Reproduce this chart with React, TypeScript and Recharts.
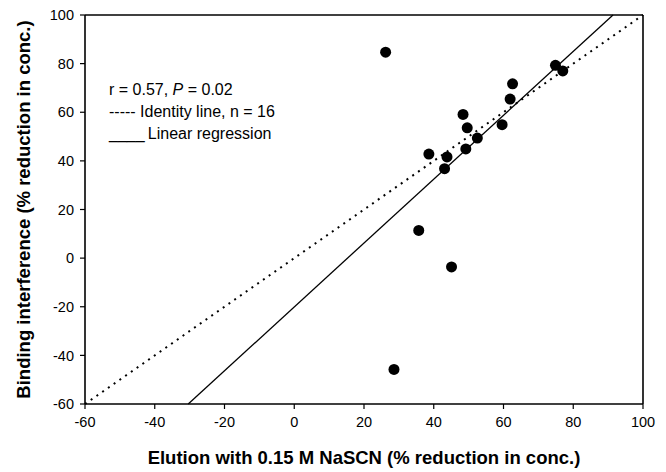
import React from 'react';
import {
  ScatterChart,
  Scatter,
  XAxis,
  YAxis,
  ReferenceLine,
  Label,
  Customized,
} from 'recharts';

// Elution with 0.15 M NaSCN vs. binding interference (% reduction in conc.)
const elution = [26.2, 38.6, 43.8, 43.1, 35.7, 45.1, 28.6, 48.4, 49.6, 49.2, 52.5, 59.6, 61.9, 62.6, 74.9, 77.0];
const binding = [84.7, 42.8, 41.6, 36.8, 11.4, -3.6, -45.8, 59.1, 53.6, 44.9, 49.4, 54.9, 65.4, 71.7, 79.3, 77.0];

const xTicks = [-60, -40, -20, 0, 20, 40, 60, 80, 100];
const yTicks = [-60, -40, -20, 0, 20, 40, 60, 80, 100];

// Endpoints of the identity line and of the fitted regression line
const identityLine = [
  { x: -60, y: -60 },
  { x: 100, y: 100 },
];
const regressionLine = [
  { x: -30.4, y: -60 },
  { x: 91.4, y: 100 },
];

const points = elution.map((x, i) => ({ x, y: binding[i] }));

const FONT = '"Liberation Sans", Arial, Helvetica, sans-serif';

const Dot = (props: any) => {
  const { cx, cy } = props;
  if (cx == null || cy == null) return null;
  return <circle cx={cx} cy={cy} r={5.5} fill="#000" />;
};

const Annotation = () => (
  <g fontFamily={FONT} fontSize={16} fill="#000">
    <text x={109} y={95}>
      r = 0.57, <tspan fontStyle="italic">P</tspan> = 0.02
    </text>
    <text x={109} y={117}>
      ----- Identity line, n = 16
    </text>
    <text x={109} y={139}>
      {'____\u2009Linear regression'}
    </text>
  </g>
);

const YTitle = (props: any) => {
  const vb = props.viewBox || {};
  const cy = (vb.y ?? 15) + (vb.height ?? 389) / 2;
  return (
    <text
      x={23}
      y={cy}
      transform={`rotate(-90, 23, ${cy})`}
      textAnchor="middle"
      dominantBaseline="central"
      fontFamily={FONT}
      fontSize={18.5}
      fontWeight="bold"
      fill="#000"
    >
      Binding interference (% reduction in conc.)
    </text>
  );
};

export default function App() {
  return (
    <div style={{ position: 'absolute', left: 0, top: 0, background: '#fff' }}>
      <ScatterChart
        width={666}
        height={472}
        margin={{ top: 15, right: 23, bottom: 0, left: 0 }}
      >
        <XAxis
          type="number"
          dataKey="x"
          domain={[-60, 100]}
          ticks={xTicks}
          allowDataOverflow
          height={68}
          tickSize={5}
          tickMargin={8}
          axisLine={{ stroke: '#000', strokeWidth: 1.6 }}
          tickLine={{ stroke: '#000', strokeWidth: 1.2 }}
          tick={{ fill: '#000', fontSize: 14.5, fontFamily: FONT }}
        >
          <Label
            value="Elution with 0.15 M NaSCN (% reduction in conc.)"
            position="insideBottom"
            offset={8}
            style={{ fontFamily: FONT, fontSize: 18.5, fontWeight: 'bold', fill: '#000' }}
          />
        </XAxis>
        <YAxis
          type="number"
          dataKey="y"
          domain={[-60, 100]}
          ticks={yTicks}
          allowDataOverflow
          width={85}
          tickSize={5}
          tickMargin={6}
          axisLine={{ stroke: '#000', strokeWidth: 1.6 }}
          tickLine={{ stroke: '#000', strokeWidth: 1.2 }}
          tick={{ fill: '#000', fontSize: 14.5, fontFamily: FONT }}
        >
          <Label content={<YTitle />} />
        </YAxis>
        <ReferenceLine y={100} stroke="#000" strokeWidth={1.6} />
        <ReferenceLine x={100} stroke="#000" strokeWidth={1.6} />
        <ReferenceLine
          segment={identityLine}
          stroke="#000"
          strokeWidth={2}
          strokeDasharray="2 5"
        />
        <ReferenceLine segment={regressionLine} stroke="#000" strokeWidth={1.3} />
        <Scatter data={points} shape={<Dot />} isAnimationActive={false} />
        <Customized component={Annotation} />
      </ScatterChart>
    </div>
  );
}
